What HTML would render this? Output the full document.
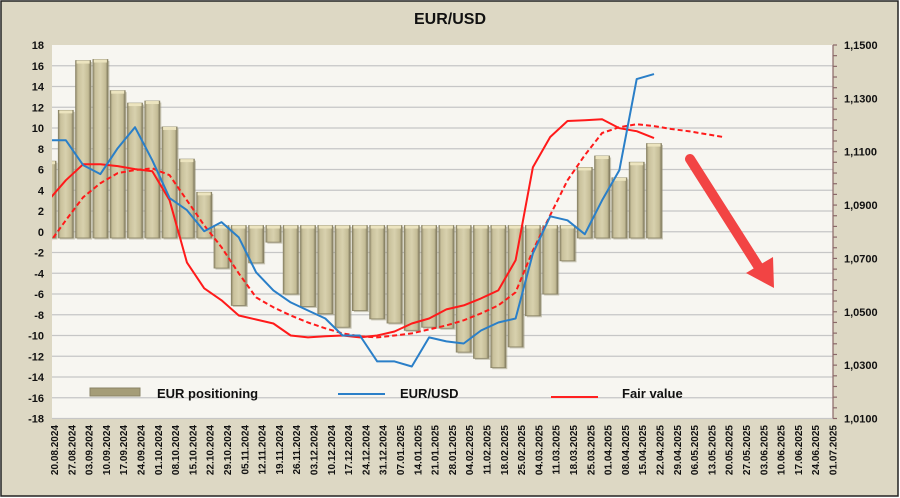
<!DOCTYPE html>
<html><head><meta charset="utf-8"><style>
html,body{margin:0;padding:0;width:900px;height:498px;overflow:hidden;background:#fff}
svg{display:block;font-family:"Liberation Sans",sans-serif}
</style></head><body>
<svg id="chart" width="900" height="498" viewBox="0 0 900 498" xmlns="http://www.w3.org/2000/svg">
<defs>
<linearGradient id="barg" x1="0" x2="1" y1="0" y2="0">
<stop offset="0" stop-color="#8f886a"/><stop offset="0.15" stop-color="#c9c19c"/><stop offset="0.5" stop-color="#d8d1ae"/><stop offset="0.85" stop-color="#c4bc96"/><stop offset="1" stop-color="#7d775c"/>
</linearGradient>
<clipPath id="pc"><rect x="52" y="45" width="781" height="374"/></clipPath>
</defs>
<rect x="1" y="1" width="897" height="495" fill="#ddd8c4" stroke="#222" stroke-width="1.5"/>
<text x="450" y="24" text-anchor="middle" font-size="16" font-weight="bold" fill="#111">EUR/USD</text>
<rect x="52" y="45" width="781" height="374" fill="#f7f6f1"/>
<g id="grid"></g><g id="bars" clip-path="url(#pc)"></g><g id="lines" clip-path="url(#pc)"></g>
<g id="yleft"></g><g id="yright"></g><g id="xaxis"></g>
<g>
<line x1="690" y1="159" x2="758" y2="266" stroke="#f24444" stroke-width="10" stroke-linecap="round"/>
<polygon points="746,273 773,257 774,288" fill="#f24444"/>
</g>
<g>
<rect x="90" y="388" width="50" height="8" fill="#a59d78" stroke="#8a8466"/>
<text x="157" y="398" font-size="13" font-weight="bold" fill="#111">EUR positioning</text>
<line x1="338" y1="394" x2="385" y2="394" stroke="#2a7fc8" stroke-width="2"/>
<text x="400" y="398" font-size="13" font-weight="bold" fill="#111">EUR/USD</text>
<line x1="551" y1="397" x2="598" y2="397" stroke="#ff2020" stroke-width="2"/>
<text x="622" y="398" font-size="13" font-weight="bold" fill="#111">Fair value</text>
</g>
</svg>
<script>
const dates=["20.08.2024","27.08.2024","03.09.2024","10.09.2024","17.09.2024","24.09.2024","01.10.2024","08.10.2024","15.10.2024","22.10.2024","29.10.2024","05.11.2024","12.11.2024","19.11.2024","26.11.2024","03.12.2024","10.12.2024","17.12.2024","24.12.2024","31.12.2024","07.01.2025","14.01.2025","21.01.2025","28.01.2025","04.02.2025","11.02.2025","18.02.2025","25.02.2025","04.03.2025","11.03.2025","18.03.2025","25.03.2025","01.04.2025","08.04.2025","15.04.2025","22.04.2025","29.04.2025","06.05.2025","13.05.2025","20.05.2025","27.05.2025","03.06.2025","10.06.2025","17.06.2025","24.06.2025","01.07.2025"];
const positioning=[6.8,11.7,16.5,16.6,13.6,12.4,12.6,10.1,7.0,3.8,-3.5,-7.1,-3.0,-1.0,-6.0,-7.2,-7.9,-9.2,-7.6,-8.4,-8.8,-9.5,-9.2,-9.3,-11.6,-12.2,-13.1,-11.1,-8.1,-6.0,-2.8,6.2,7.3,5.2,6.7,8.5];
const eurusd=[1.1143,1.1143,1.1050,1.1016,1.1113,1.1192,1.1068,1.0926,1.0881,1.0802,1.0836,1.0779,1.0648,1.0580,1.0535,1.0505,1.0475,1.0411,1.0411,1.0314,1.0314,1.0295,1.0404,1.0389,1.0381,1.0430,1.0460,1.0475,1.0719,1.0858,1.0843,1.0791,1.0918,1.1031,1.1372,1.1391];
const fairValue=[1.0918,1.0993,1.1053,1.1053,1.1046,1.1035,1.1027,1.0918,1.0685,1.0588,1.0543,1.0486,1.0471,1.0456,1.0411,1.0404,1.0408,1.0411,1.0404,1.0411,1.0426,1.0456,1.0475,1.0509,1.0524,1.0550,1.0580,1.0693,1.1042,1.1155,1.1215,1.1218,1.1222,1.1188,1.1177,1.1151];
const fairSmooth=[1.0753,1.0843,1.0929,1.0982,1.1020,1.1031,1.1038,1.1012,1.0918,1.0824,1.0742,1.0644,1.0554,1.0517,1.0486,1.0460,1.0438,1.0419,1.0408,1.0404,1.0411,1.0419,1.0434,1.0449,1.0468,1.0494,1.0524,1.0573,1.0730,1.0862,1.0993,1.1087,1.1170,1.1192,1.1203,1.1196,1.1185,1.1177,1.1166,1.1155];
const leftTicks=[18,16,14,12,10,8,6,4,2,0,-2,-4,-6,-8,-10,-12,-14,-16,-18];
const rightTicks=["1,1500","1,1300","1,1100","1,0900","1,0700","1,0500","1,0300","1,0100"];
const rightTickVals=[1.15,1.13,1.11,1.09,1.07,1.05,1.03,1.01];

const NS="http://www.w3.org/2000/svg";
const T=45,B=418.5,L=52,R=833;
const yL=v=>T+(18-v)*(B-T)/36;
const yR=v=>T+(1.15-v)*(B-T)/0.14;
const step=17.3;
const xLab=i=>54+i*step;
const xC=i=>xLab(i)-5.5;
function mk(tag,attrs,parent){const e=document.createElementNS(NS,tag);for(const k in attrs)e.setAttribute(k,attrs[k]);parent.appendChild(e);return e;}
const grid=document.getElementById('grid'),bars=document.getElementById('bars'),lines=document.getElementById('lines');
const yl=document.getElementById('yleft'),yr=document.getElementById('yright'),xa=document.getElementById('xaxis');

leftTicks.forEach(v=>{
  const y=yL(v);
  if(v!==18){const g=mk('line',{x1:L,x2:R,y1:y,y2:y,stroke:'#c6c6c6','stroke-width':1.3},grid);
  
  }
  const t=mk('text',{x:44,y:y+4,'text-anchor':'end','font-size':11,'font-weight':'bold',fill:'#111'},yl);
  t.textContent=String(v);
  
  
});
const ax=mk('line',{x1:R,x2:R,y1:T,y2:B,stroke:'#8a6868','stroke-width':1.2},yr);


for(let k=0;k<=35;k++){const y=T+k*(B-T)/35;const m=mk('line',{x1:R,x2:R+4,y1:y,y2:y,stroke:'#8a6868','stroke-width':1.2},yr);
  
  }
rightTickVals.forEach((v,i)=>{
  const t=mk('text',{x:844,y:yR(v)+4,'font-size':11,'font-weight':'bold',fill:'#111'},yr);
  t.textContent=rightTicks[i];
  
  
});
dates.forEach((d,i)=>{
  const x=xLab(i);
  const t=mk('text',{x:0,y:0,transform:`translate(${x+4},425) rotate(-90)`,'text-anchor':'end','font-size':10,'font-weight':'bold',fill:'#111'},xa);
  t.textContent=d;
  
  
});
positioning.forEach((v,i)=>{
  const x=xC(i)-7.5;
  const base=v>=0?-0.6:0.6;
  const y1=Math.min(yL(v),yL(base)),y2=Math.max(yL(v),yL(base));
  const g=mk('g',{},bars);
  
  
  mk('rect',{x:x+1.5,y:y1+1.5,width:15,height:y2-y1,fill:'#9a9478',opacity:0.5},g);
  mk('rect',{x:x,y:y1,width:15,height:y2-y1,fill:'url(#barg)',stroke:'#8a8466','stroke-width':0.8},g);
  mk('rect',{x:x+1,y:y1,width:13,height:3,fill:'#ece4bf'},g);
});
function path(arr,color,dash,name){
  const d=arr.map((v,i)=>(i?'L':'M')+xC(i).toFixed(1)+','+yR(v).toFixed(1)).join(' ');
  const p=mk('path',{d:d,fill:'none',stroke:color,'stroke-width':2,'stroke-linejoin':'round'},lines);
  if(dash)p.setAttribute('stroke-dasharray',dash);
  
  
}
path(fairSmooth,'#ff1a1a','5,3','fair-value-trend-line');
path(fairValue,'#ff1a1a',null,'fair-value-line');
path(eurusd,'#2a7fc8',null,'eurusd-line');
</script>
</body></html>
